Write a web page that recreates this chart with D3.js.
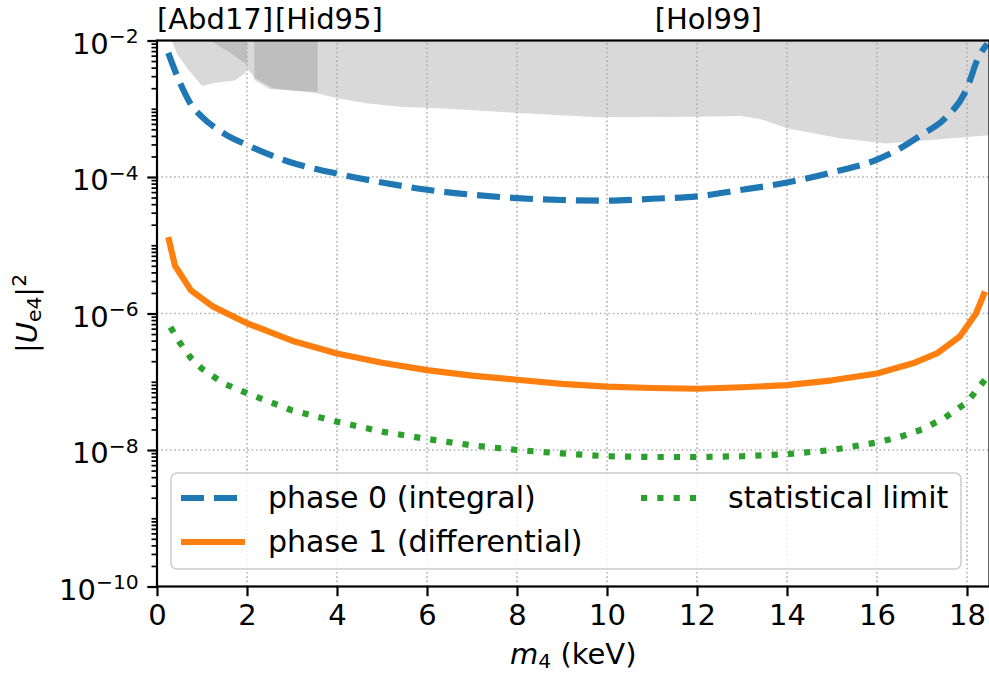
<!DOCTYPE html>
<html>
<head>
<meta charset="utf-8">
<script src="https://cdn.jsdelivr.net/npm/d3@7"></script>
<style>
body { margin: 0; background: #fff; }
text { font-family: "DejaVu Sans", sans-serif; fill: #000; }
</style>
</head>
<body>
<div id="chart"></div>
<script>
// sterile neutrino sensitivity |U_e4|^2 vs m4 (keV)

// phase 0 (integral)
const massPhase0 = [0.25, 0.5, 0.75, 1, 1.5, 2, 3, 4, 5, 6, 7, 8, 9, 10, 11, 12, 13, 14, 15, 16, 16.5, 17, 17.5, 18, 18.25, 18.45];
const mixPhase0  = [6.6e-3, 2.5e-3, 1.17e-3, 7.6e-4, 4.3e-4, 2.95e-4, 1.62e-4, 1.12e-4, 8.3e-5, 6.5e-5, 5.5e-5, 4.9e-5, 4.6e-5, 4.5e-5, 4.8e-5, 5.2e-5, 6.5e-5, 8.3e-5, 1.17e-4, 1.8e-4, 2.6e-4, 4.2e-4, 7.1e-4, 2.0e-3, 5.6e-3, 8.9e-3];

// phase 1 (differential)
const massPhase1 = [0.25, 0.4, 0.75, 1.25, 2, 3, 4, 5, 6, 7, 8, 9, 10, 11, 12, 13, 14, 15, 16, 16.8, 17.33, 17.84, 18.2, 18.4];
const mixPhase1  = [1.32e-5, 5.0e-6, 2.2e-6, 1.26e-6, 7.2e-7, 4.0e-7, 2.6e-7, 1.9e-7, 1.48e-7, 1.23e-7, 1.07e-7, 9.3e-8, 8.5e-8, 8.1e-8, 7.9e-8, 8.3e-8, 8.9e-8, 1.05e-7, 1.32e-7, 1.86e-7, 2.6e-7, 4.6e-7, 1.0e-6, 2.1e-6];

// statistical limit
const massStat = [0.3, 0.5, 0.75, 1, 1.5, 2, 3, 4, 5, 6, 7, 8, 9, 10, 11, 12, 13, 14, 15, 16, 16.5, 17, 17.5, 18, 18.4];
const mixStat  = [6.3e-7, 3.8e-7, 2.24e-7, 1.55e-7, 9.3e-8, 6.8e-8, 3.8e-8, 2.6e-8, 1.86e-8, 1.45e-8, 1.17e-8, 1.0e-8, 8.9e-9, 8.1e-9, 7.9e-9, 7.9e-9, 8.1e-9, 8.7e-9, 1.0e-8, 1.29e-8, 1.55e-8, 2.0e-8, 2.95e-8, 5.0e-8, 1.07e-7];

// excluded regions (lower edge; they reach the top of the plot)
const massHol99 = [0.33, 0.45, 0.7, 1.0, 1.3, 1.73, 1.96, 2.0, 2.18, 2.58, 3.55, 4.0, 4.66, 5.4, 6.5, 8, 9.84, 12.0, 12.96, 13.4, 14.0, 15.18, 16.2, 17.25, 18.5];
const mixHol99  = [1e-2, 6.3e-3, 3.7e-3, 2.15e-3, 2.4e-3, 2.6e-3, 3.3e-3, 3.9e-3, 2.8e-3, 2.0e-3, 1.68e-3, 1.42e-3, 1.2e-3, 1.07e-3, 1.0e-3, 8.7e-4, 7.5e-4, 7.65e-4, 7.8e-4, 7.1e-4, 5.2e-4, 3.7e-4, 3.1e-4, 3.5e-4, 4.1e-4];
const massAbd17 = [1.18, 1.6, 2.0];
const mixAbd17  = [1e-2, 6.8e-3, 4.4e-3];
const massHid95 = [2.16, 2.16, 2.5, 3.0, 3.57];
const mixHid95  = [1e-2, 2.65e-3, 1.95e-3, 1.85e-3, 1.78e-3];

const regionLabels = ["[Abd17]", "[Hid95]", "[Hol99]"];
const regionLabelMass = [1.29, 3.82, 12.25];

const xTicks = d3.range(0, 19, 2);
const yTicks = [1e-10, 1e-8, 1e-6, 1e-4, 1e-2];

const width = 989, height = 673;
const fs = 29;
const legendFs = 30;
const margin = {top: 40.5, right: -0.5, bottom: 86.5, left: 157};

const svg = d3.select("#chart").append("svg")
    .attr("width", width)
    .attr("height", height);

const x = d3.scaleLinear().domain([0, 18.5]).range([margin.left, width - margin.right]);
const y = d3.scaleLog().domain([1e-10, 1e-2]).range([height - margin.bottom, margin.top]);

svg.append("clipPath").attr("id", "plotclip")
    .append("rect")
    .attr("x", x.range()[0]).attr("y", y.range()[1])
    .attr("width", x.range()[1] - x.range()[0])
    .attr("height", y.range()[0] - y.range()[1]);

const plot = svg.append("g").attr("clip-path", "url(#plotclip)");

// shaded regions
const regionArea = d3.area()
    .x(d => x(d[0]))
    .y0(y(1e-2))
    .y1(d => y(d[1]));

[[massHol99, mixHol99], [massAbd17, mixAbd17], [massHid95, mixHid95]].forEach(r => {
    plot.append("path")
        .datum(d3.zip(r[0], r[1]))
        .attr("d", regionArea)
        .attr("fill", "#808080")
        .attr("fill-opacity", 0.3);
});

// grid
plot.append("g").selectAll("line").data(xTicks).join("line")
    .attr("x1", d => x(d)).attr("x2", d => x(d))
    .attr("y1", y.range()[0]).attr("y2", y.range()[1])
    .attr("stroke", "#b0b0b0").attr("stroke-width", 1.6).attr("stroke-dasharray", "1.6,2.7");
plot.append("g").selectAll("line").data(yTicks).join("line")
    .attr("y1", d => y(d)).attr("y2", d => y(d))
    .attr("x1", x.range()[0]).attr("x2", x.range()[1])
    .attr("stroke", "#b0b0b0").attr("stroke-width", 1.6).attr("stroke-dasharray", "1.6,2.7");

// curves
const lw = 6.2;
const series = [
    {mass: massPhase0, mix: mixPhase0, color: "#1f77b4", dash: "23,10", curve: d3.curveMonotoneX, label: "phase 0 (integral)"},
    {mass: massPhase1, mix: mixPhase1, color: "#ff7f0e", dash: null, curve: d3.curveLinear, label: "phase 1 (differential)"},
    {mass: massStat, mix: mixStat, color: "#2ca02c", dash: "6.2,10.1", curve: d3.curveLinear, label: "statistical limit"}
];

series.forEach(s => {
    const line = d3.line().x(d => x(d[0])).y(d => y(d[1])).curve(s.curve);
    plot.append("path")
        .datum(d3.zip(s.mass, s.mix))
        .attr("d", line)
        .attr("fill", "none")
        .attr("stroke", s.color)
        .attr("stroke-width", lw)
        .attr("stroke-dasharray", s.dash)
        .attr("stroke-linejoin", "round");
});

// axes
const xAxis = svg.append("g")
    .attr("transform", "translate(0," + y.range()[0] + ")")
    .call(d3.axisBottom(x).tickValues(xTicks).tickSize(9.7).tickSizeOuter(0).tickPadding(8.2));
xAxis.select(".domain").remove();
xAxis.selectAll("line").attr("stroke-width", 2.2);
xAxis.selectAll("text").attr("font-size", fs).attr("font-family", "DejaVu Sans");

const yAxis = svg.append("g")
    .attr("transform", "translate(" + x.range()[0] + ",0)")
    .call(d3.axisLeft(y).tickValues(yTicks).tickSize(9.7).tickSizeOuter(0).tickPadding(8.6).tickFormat(""));
yAxis.select(".domain").remove();
yAxis.selectAll("line").attr("stroke-width", 2.2);
yAxis.selectAll(".tick text").each(function (d) {
    const t = d3.select(this)
        .attr("font-size", fs)
        .attr("font-family", "DejaVu Sans")
        .attr("dy", 12.8);
    t.append("tspan").text("10");
    t.append("tspan")
        .attr("font-size", fs * 0.7)
        .attr("dy", -10.5)
        .text("\u2212" + Math.round(-Math.log10(d)));
});

// minor ticks
const minor = [];
for (let n = -10; n < -2; n++) {
    for (let k = 1; k <= 9; k++) {
        const v = k * Math.pow(10, n);
        if (k === 1 && n % 2 === 0) continue;
        minor.push(v);
    }
}
svg.append("g")
    .attr("transform", "translate(" + x.range()[0] + ",0)")
    .call(d3.axisLeft(y).tickValues(minor).tickSize(5.5).tickFormat(""))
    .call(g => g.select(".domain").remove())
    .selectAll("line").attr("stroke-width", 1.7);

// spines
svg.append("rect")
    .attr("x", x.range()[0]).attr("y", y.range()[1])
    .attr("width", x.range()[1] - x.range()[0])
    .attr("height", y.range()[0] - y.range()[1])
    .attr("fill", "none").attr("stroke", "#000").attr("stroke-width", 2.2);

// axis labels
const xl = svg.append("text")
    .attr("x", (x.range()[0] + x.range()[1]) / 2)
    .attr("y", 664)
    .attr("text-anchor", "middle")
    .attr("font-size", fs);
xl.append("tspan").attr("font-style", "italic").text("m");
xl.append("tspan").attr("font-size", fs * 0.7).attr("dy", 4).text("4");
xl.append("tspan").attr("dy", -4).text(" (keV)");

const yl = svg.append("text")
    .attr("transform", "translate(36.5," + ((y.range()[0] + y.range()[1]) / 2) + ") rotate(-90)")
    .attr("text-anchor", "middle")
    .attr("font-size", fs);
yl.append("tspan").text("|");
yl.append("tspan").attr("font-style", "italic").text("U");
yl.append("tspan").attr("font-size", fs * 0.7).attr("dy", 4.5).text("e4");
yl.append("tspan").attr("dy", -4.5).text("|");
yl.append("tspan").attr("font-size", fs * 0.7).attr("dy", -11).text("2");

// region labels above the plot
svg.append("g").selectAll("text").data(regionLabels).join("text")
    .attr("x", (d, i) => x(regionLabelMass[i]))
    .attr("y", 29)
    .attr("text-anchor", "middle")
    .attr("font-size", fs)
    .text(d => d);

// legend
const legend = svg.append("g");
legend.append("rect")
    .attr("x", 171).attr("y", 473)
    .attr("width", 790).attr("height", 96)
    .attr("rx", 6)
    .attr("fill", "#fff").attr("fill-opacity", 0.8)
    .attr("stroke", "#cccccc").attr("stroke-width", 1.5);

const legendPos = [[181, 498], [181, 542], [641, 498]];
series.forEach((s, i) => {
    const [lx, ly] = legendPos[i];
    legend.append("line")
        .attr("x1", lx).attr("x2", lx + 64)
        .attr("y1", ly).attr("y2", ly)
        .attr("stroke", s.color)
        .attr("stroke-width", lw)
        .attr("stroke-dasharray", s.dash);
    legend.append("text")
        .attr("x", lx + 87)
        .attr("y", ly + 10)
        .attr("font-size", legendFs)
        .text(s.label);
});
</script>
</body>
</html>
